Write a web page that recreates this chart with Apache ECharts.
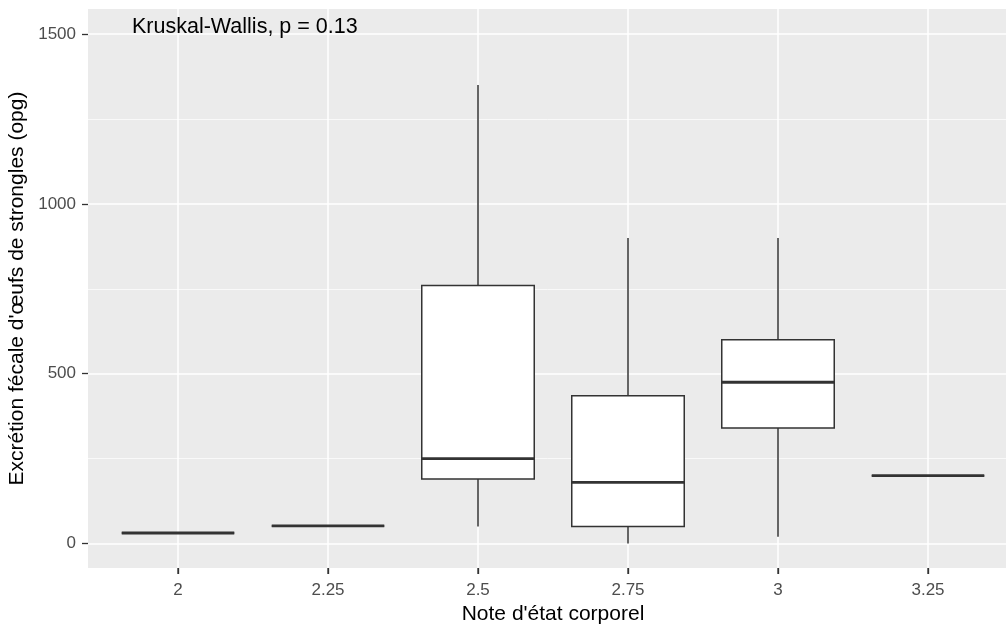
<!DOCTYPE html>
<html><head><meta charset="utf-8">
<script src="https://cdn.jsdelivr.net/npm/echarts@6/dist/echarts.min.js"></script>
<style>html,body{margin:0;padding:0;background:#fff}#c{width:1006px;height:626px}</style>
</head><body><div id="c"></div>
<script>
const categories = [2, 2.25, 2.5, 2.75, 3, 3.25];
const tickLabels = ['2', '2.25', '2.5', '2.75', '3', '3.25'];
const whiskerLow = [31, 52, 50, 0, 20, 200];
const q1 = [31, 52, 190, 50, 340, 200];
const median = [31, 52, 250, 180, 475, 200];
const q3 = [31, 52, 760, 435, 600, 200];
const whiskerHigh = [31, 52, 1350, 900, 900, 200];
const yTicks = [0, 500, 1000, 1500];
const yMinorTicks = [250, 750, 1250];
const annotation = 'Kruskal-Wallis, p = 0.13';
const Y_MIN = -72, Y_MAX = 1574;

const FONT = "'Liberation Sans', Arial, sans-serif";
const boxData = categories.map((c, i) => [c, whiskerLow[i], q1[i], median[i], q3[i], whiskerHigh[i]]);
const tickData = categories.map(c => [c, Y_MIN]);

const chart = echarts.init(document.getElementById('c'), null, {renderer: 'canvas'});
chart.setOption({
  animation: false,
  backgroundColor: '#ffffff',
  grid: {left: 88, top: 9, right: -12, bottom: 58, show: true, backgroundColor: '#EBEBEB', borderWidth: 0,
    containLabel: false, outerBoundsMode: 'none'},
  xAxis: {
    type: 'value', min: 1.85, max: 3.40, position: 'bottom',
    axisLine: {show: false, onZero: false},
    axisTick: {show: true, inside: false, length: 6, lineStyle: {color: '#333333', width: 1.3}, customValues: categories},
    axisLabel: {
      customValues: categories,
      formatter: v => { const k = categories.indexOf(v); return k >= 0 ? tickLabels[k] : ''; },
      color: '#4D4D4D', fontSize: 17, margin: 14, fontFamily: FONT
    },
    splitLine: {show: true, lineStyle: {color: '#ffffff', width: 1.5}},
    name: "Note d'état corporel", nameLocation: 'middle', nameGap: 32,
    nameTextStyle: {color: '#000000', fontSize: 21, fontFamily: FONT}
  },
  yAxis: [{
    type: 'value', min: Y_MIN, max: Y_MAX,
    axisLine: {show: false, onZero: false},
    axisTick: {show: true, length: 6, lineStyle: {color: '#333333', width: 1.3}, customValues: yTicks},
    axisLabel: {customValues: yTicks, formatter: v => String(v), color: '#4D4D4D', fontSize: 17, margin: 12, fontFamily: FONT},
    splitLine: {show: true, lineStyle: {color: '#ffffff', width: 1.5}},
    name: "Excrétion fécale d'œufs de strongles (opg)", nameLocation: 'middle', nameGap: 53,
    nameTextStyle: {color: '#000000', fontSize: 21, fontFamily: FONT}
  }, {
    type: 'value', min: Y_MIN, max: Y_MAX, position: 'left',
    axisLine: {show: false, onZero: false},
    axisTick: {show: false, customValues: yMinorTicks},
    axisLabel: {show: false, customValues: yMinorTicks},
    splitLine: {show: true, lineStyle: {color: '#FAFAFA', width: 0.9}}
  }],
  graphic: [{
    type: 'text', left: 132, top: 16, z: 100, zlevel: 0,
    style: {text: annotation, fill: '#000000', font: '21.5px ' + FONT}
  }],
  series: [{
    type: 'custom',
    xAxisIndex: 0, yAxisIndex: 0,
    data: boxData,
    encode: {x: 0, y: [1, 2, 3, 4, 5]},
    renderItem: function (params, api) {
      const x = api.value(0);
      const lo = api.value(1), a = api.value(2), m = api.value(3), b = api.value(4), hi = api.value(5);
      const w = api.size([0.1875, 0])[0];
      const hw = w / 2;
      const pHi = api.coord([x, hi]), pB = api.coord([x, b]), pM = api.coord([x, m]);
      const pA = api.coord([x, a]), pLo = api.coord([x, lo]);
      const ls = {stroke: '#333333', lineWidth: 1.5};
      const children = [];
      if (hi > b) children.push({type: 'line', shape: {x1: pHi[0], y1: pHi[1], x2: pB[0], y2: pB[1]}, style: ls});
      if (a > lo) children.push({type: 'line', shape: {x1: pA[0], y1: pA[1], x2: pLo[0], y2: pLo[1]}, style: ls});
      children.push({type: 'rect', shape: {x: pB[0] - hw, y: pB[1], width: w, height: pA[1] - pB[1]},
        style: {fill: '#ffffff', stroke: '#333333', lineWidth: 1.5}});
      children.push({type: 'line', shape: {x1: pM[0] - hw, y1: pM[1], x2: pM[0] + hw, y2: pM[1]},
        style: {stroke: '#333333', lineWidth: 2.9}});
      return {type: 'group', children: children};
    }
  }, {
    type: 'custom',
    xAxisIndex: 0, yAxisIndex: 0,
    clip: false, silent: true, z: 10,
    data: tickData,
    encode: {x: 0, y: 1},
    renderItem: function (params, api) {
      const p = api.coord([api.value(0), api.value(1)]);
      return {type: 'line', shape: {x1: p[0], y1: p[1], x2: p[0], y2: p[1] + 6},
        style: {stroke: '#333333', lineWidth: 1.3}};
    }
  }]
});
</script></body></html>
